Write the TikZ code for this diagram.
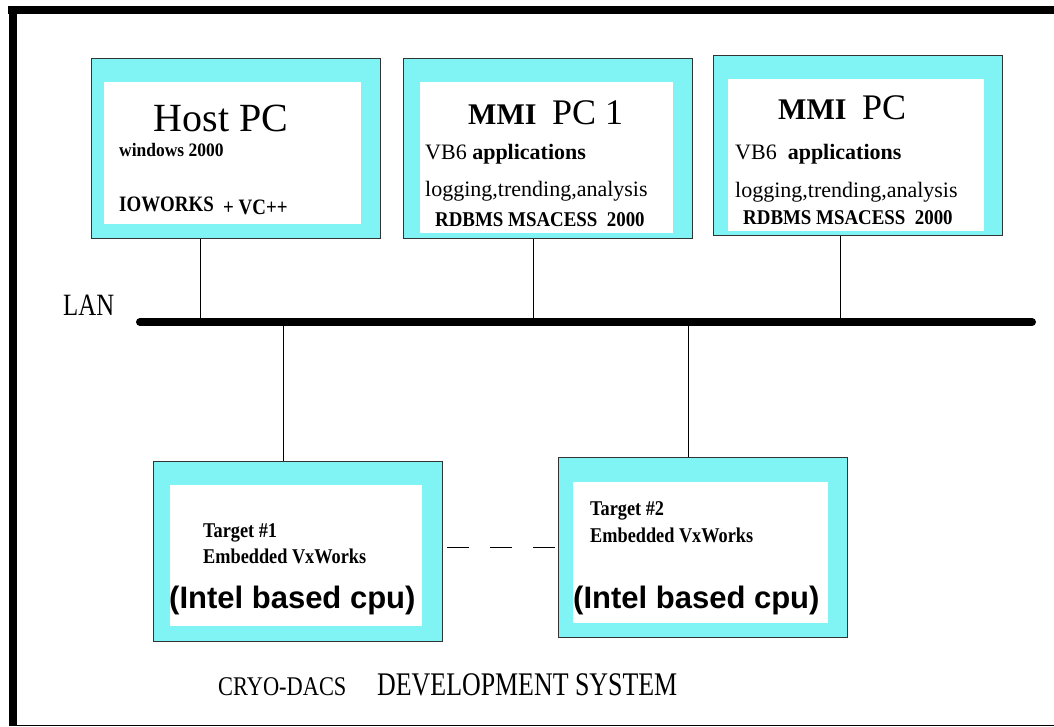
\documentclass[tikz,border=0pt]{standalone}
\usepackage{fontspec}
\usepackage{graphicx}
\usepackage{xcolor}
\usepackage{tikz}
\usetikzlibrary{calc, positioning}
\setmainfont{Liberation Serif}
\newfontfamily\arialfont{Liberation Sans}
\definecolor{bandcyan}{RGB}{128,244,244}

\begin{document}
\begin{tikzpicture}[x=1pt, y=-1pt,
    pcbox/.style={draw=black!80, line width=1pt, fill=bandcyan, inner sep=0pt,
                  minimum width=289pt, minimum height=180pt},
    lbl/.style={anchor=base west, inner sep=0pt},
    tap/.style={line width=0.8pt},
    lanbus/.style={line width=8pt, line cap=round}]
    \useasboundingbox (0,0) rectangle (1054,727);

    % Rahmen
    \fill (8,6) rectangle (1054,14);
    \fill (9,6) rectangle (17,726);
    \draw[line width=1.5pt] (17,725.5) -- (1054,725.5);

    % Rechner oben
    \node[pcbox] (host) at (236,148.5) {};
    \node[pcbox] (mmiA) at (548,148.5) {};
    \node[pcbox] (mmiB) at (857.5,145.5) {};
    \fill[white] ([shift={(13pt,-24pt)}]host.north west) rectangle ([shift={(-20pt,15pt)}]host.south east);
    \fill[white] ([shift={(17pt,-24pt)}]mmiA.north west) rectangle ([shift={(-20pt,6pt)}]mmiA.south east);
    \fill[white] ([shift={(15pt,-24pt)}]mmiB.north west) rectangle ([shift={(-19pt,5pt)}]mmiB.south east);

    % Zielrechner unten
    \node[pcbox] (tgtA) at (298,551) {};
    \node[pcbox] (tgtB) at (702.5,547) {};
    \fill[white] ([shift={(17pt,-24pt)}]tgtA.north west) rectangle ([shift={(-21pt,16pt)}]tgtA.south east);
    \fill[white] ([shift={(15pt,-25pt)}]tgtB.north west) rectangle ([shift={(-20pt,15pt)}]tgtB.south east);

    % LAN
    \coordinate (lanL) at (140,322);
    \coordinate (lanR) at (1032,322);
    \draw[lanbus] (lanL) -- (lanR);
    \node[lbl, font=\fontsize{31}{31}\selectfont] (lanlbl) at (63,315) {\scalebox{0.8}[1]{LAN}};

    \draw[tap] ([xshift=-36pt]host.south) -- ([xshift=-36pt]host.south |- lanL);
    \draw[tap] ([xshift=-15pt]mmiA.south) -- ([xshift=-15pt]mmiA.south |- lanL);
    \draw[tap] ([xshift=-17.5pt]mmiB.south) -- ([xshift=-17.5pt]mmiB.south |- lanL);
    \draw[tap] ([xshift=-15pt]tgtA.north) -- ([xshift=-15pt]tgtA.north |- lanL);
    \draw[tap] ([xshift=-14.5pt]tgtB.north) -- ([xshift=-14.5pt]tgtB.north |- lanL);
    \draw[tap, dash pattern=on 22pt off 21pt, shorten <=4pt] (tgtA.east |- tgtB.west) -- (tgtB.west);

    % Texte Host PC
    \node[anchor=base, inner sep=0pt, font=\fontsize{40}{40}\selectfont] (hostT) at (221,132) {Host PC};
    \node[lbl, font=\bfseries\fontsize{19}{19}\selectfont] (hostOS) at (119,157) {\scalebox{0.92}[1]{windows 2000}};
    \node[lbl, font=\bfseries\fontsize{22}{22}\selectfont] (hostIO) at (119,212) {\scalebox{0.86}[1]{IOWORKS}};
    \node[lbl, font=\bfseries\fontsize{22}{22}\selectfont] (hostVC) at (223,215) {\scalebox{0.86}[1]{+ VC++}};

    % Texte MMI PC 1
    \node[lbl, font=\bfseries\fontsize{30}{30}\selectfont] (mmiAm) at (468,125) {MMI};
    \node[lbl, font=\fontsize{36}{36}\selectfont] (mmiAp) at (552,125) {PC 1};
    \node[lbl, font=\fontsize{22}{22}\selectfont] (mmiAvb) at (425,160) {VB6 \textbf{applications}};
    \node[lbl, font=\fontsize{22}{22}\selectfont] (mmiAlog) at (425,197) {logging,trending,analysis};
    \node[lbl, font=\bfseries\fontsize{21}{21}\selectfont] (mmiAdb) at (435,227) {\scalebox{0.9}[1]{RDBMS MSACESS\ \ 2000}};

    % Texte MMI PC
    \node[lbl, font=\bfseries\fontsize{30}{30}\selectfont] (mmiBm) at (778,120) {MMI};
    \node[lbl, font=\fontsize{36}{36}\selectfont] (mmiBp) at (862,120) {PC};
    \node[lbl, font=\fontsize{22}{22}\selectfont] (mmiBvb) at (735,160) {VB6\ \ \textbf{applications}};
    \node[lbl, font=\fontsize{22}{22}\selectfont] (mmiBlog) at (735,198) {logging,trending,analysis};
    \node[lbl, font=\bfseries\fontsize{21}{21}\selectfont] (mmiBdb) at (743,225) {\scalebox{0.9}[1]{RDBMS MSACESS\ \ 2000}};

    % Texte Target
    \node[lbl, font=\bfseries\fontsize{21}{21}\selectfont] (tgtAn) at (203,537) {\scalebox{0.87}[1]{Target \#1}};
    \node[lbl, font=\bfseries\fontsize{21}{21}\selectfont] (tgtAos) at (203,563) {\scalebox{0.87}[1]{Embedded VxWorks}};
    \node[lbl, font=\arialfont\bfseries\fontsize{31}{31}\selectfont] (tgtAcpu) at (169,608) {(Intel based cpu)};
    \node[lbl, font=\bfseries\fontsize{21}{21}\selectfont] (tgtBn) at (590,515) {\scalebox{0.87}[1]{Target \#2}};
    \node[lbl, font=\bfseries\fontsize{21}{21}\selectfont] (tgtBos) at (590,542) {\scalebox{0.87}[1]{Embedded VxWorks}};
    \node[lbl, font=\arialfont\bfseries\fontsize{31}{31}\selectfont] (tgtBcpu) at (573,608) {(Intel based cpu)};

    % Titel
    \node[lbl, font=\fontsize{27}{27}\selectfont] (ttlA) at (218,695) {\scalebox{0.83}[1]{CRYO-DACS}};
    \node[lbl, font=\fontsize{33}{33}\selectfont] (ttlB) at (377,695) {\scalebox{0.785}[1]{DEVELOPMENT SYSTEM}};
\end{tikzpicture}
\end{document}
